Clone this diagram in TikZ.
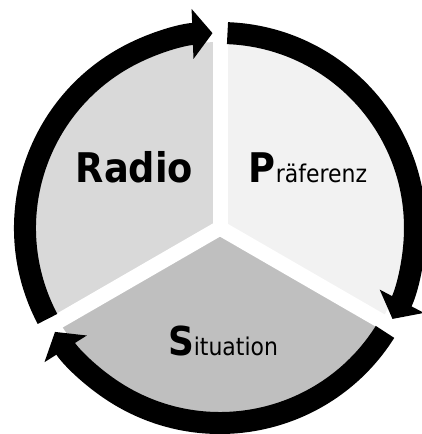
\documentclass[tikz,border=0pt]{standalone}
\usepackage{fontspec}
\setmainfont{DejaVu Sans Condensed}
\usetikzlibrary{arrows.meta}

\begin{document}
\begin{tikzpicture}[
  x=1bp, y=1bp,
  sector/.style={draw=none},
  gap/.style={draw=white, line width=15bp},
  ring/.style={draw=black, line width=22bp,
    -{Triangle[length=20bp, width=49bp]}},
  big/.style={font=\fontsize{41}{44}\selectfont\bfseries, inner sep=0pt, anchor=base},
  mix/.style={inner sep=0pt, anchor=base}
]
\useasboundingbox (-220,-206) rectangle (201,228);

%% ── Sectors ──────────────────────────────────────────────────
\fill[sector, black!15] (0,0) -- (90:186)  arc[start angle=90,  end angle=210, radius=186] -- cycle;
\fill[sector, black!5]  (0,0) -- (-30:186) arc[start angle=-30, end angle=90,  radius=186] -- cycle;
\fill[sector, black!25] (0,0) -- (210:186) arc[start angle=210, end angle=330, radius=186] -- cycle;

%% ── Gaps between sectors ─────────────────────────────────────
\foreach \a in {90, 210, 330}
  \draw[gap] (0,0) -- (\a:190);

%% ── Cycle arrows ─────────────────────────────────────────────
\draw[ring] (207.8:195) arc[start angle=207.8, end angle=92.2,   radius=195];
\draw[ring] (87.8:195)  arc[start angle=87.8,  end angle=-27.8,  radius=195];
\draw[ring] (-32.2:195) arc[start angle=-32.2, end angle=-147.8, radius=195];

%% ── Labels ───────────────────────────────────────────────────
\node[big] (rad) at (-85.5, 45) {Radio};
\node[mix] (pra) at (88, 45)
  {{\fontsize{41}{44}\selectfont\bfseries P}{\fontsize{24.5}{28}\selectfont räferenz}};
\node[mix] (sit) at (3, -127)
  {{\fontsize{40}{44}\selectfont\bfseries S}{\fontsize{24.5}{28}\selectfont ituation}};

\end{tikzpicture}
\end{document}
